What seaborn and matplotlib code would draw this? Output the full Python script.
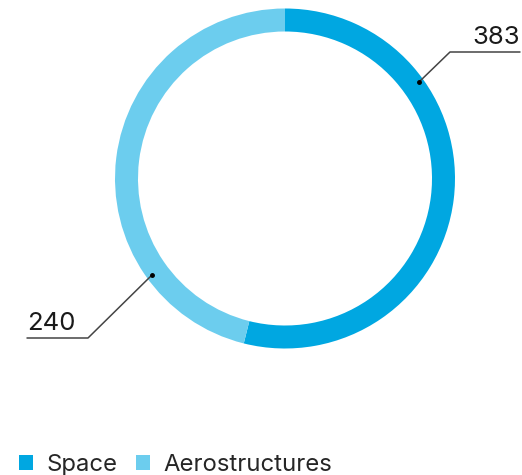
import matplotlib.pyplot as plt
import seaborn as sns

# data
segments = ['Space', 'Aerostructures']
values = [383, 240]
arc_share = [53.9, 46.1]   # arc sizes as drawn in the reference
colors = ['#00A7E1', '#6CCDEE']

sns.set_theme(style="white")
plt.rcParams['font.family'] = ['Inter', 'DejaVu Sans']

W, H = 522, 475
fig = plt.figure(figsize=(W / 100, H / 100), dpi=100)
ax = fig.add_axes([0, 0, 1, 1])

wedges, _ = ax.pie(arc_share, colors=colors, startangle=90, counterclock=False,
                   center=(285, H - 178.5), radius=170,
                   wedgeprops=dict(width=23, edgecolor='none', linewidth=0))

ax.set_xlim(0, W)
ax.set_ylim(0, H)
ax.set_aspect('equal')
ax.axis('off')

# leader lines + labels
# Space
ax.plot([419, 450, 520], [H - 82, H - 52, H - 52], color='#444444', lw=1.1)
ax.plot(419, H - 82, 'o', color='black', ms=2.5)
ax.text(520, H - 44, str(values[0]), ha='right', va='baseline', fontsize=18.5, color='#1a1a1a')
# Aerostructures
ax.plot([152, 88, 27], [H - 275, H - 338, H - 338], color='#444444', lw=1.1)
ax.plot(152, H - 275, 'o', color='black', ms=2.5)
ax.text(27, H - 330, str(values[1]), ha='left', va='baseline', fontsize=18.5, color='#1a1a1a')

ax.legend(wedges, segments, loc='lower left', bbox_to_anchor=(0.0, -0.043),
          ncol=2, frameon=False, fontsize=17.2, handlelength=0.6, handleheight=0.6,
          handletextpad=0.55, columnspacing=0.75, borderpad=0.3)

fig.savefig('out.png', dpi=100)
